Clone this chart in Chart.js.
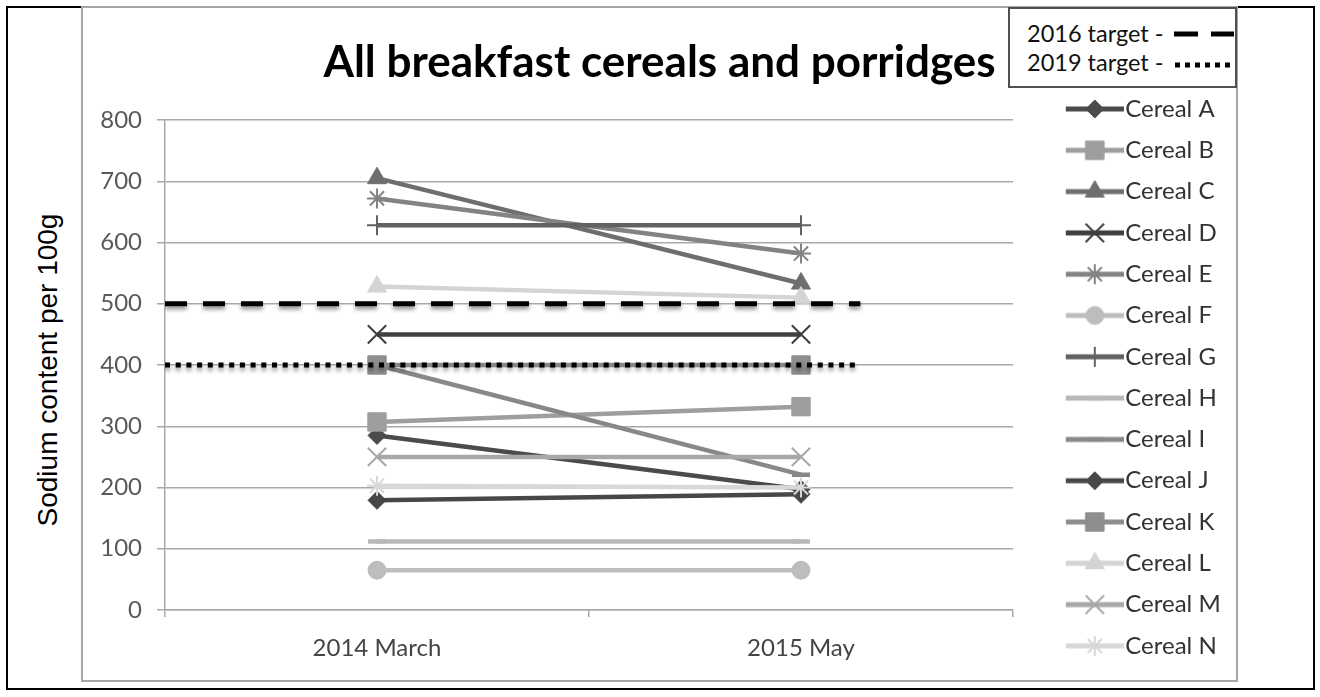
<!DOCTYPE html>
<html lang="en">
<head>
  <meta charset="UTF-8" />
  <title>All breakfast cereals and porridges</title>
  <style>
    body {
      margin: 0;
      background: #fff;
      font-family: Lato, sans-serif;
    }
    #page {
      position: absolute;
      left: 6px;
      top: 6px;
      width: 1305px;
      height: 680px;
      border: 2px solid #000;
    }
    #yTitle {
      position: absolute;
      left: 48px;
      top: 370px;
      transform: translate(-50%, -50%) rotate(-90deg);
      font-family: "Liberation Sans", Arial, sans-serif;
      font-size: 28px;
      color: #000;
      white-space: nowrap;
    }
    #chartBox {
      position: absolute;
      left: 81px;
      top: 6px;
      border: 2px solid #a6a6a6;
      line-height: 0;
    }
    #targetBox {
      position: absolute;
      left: 1008px;
      top: 7px;
      width: 225px;
      height: 77px;
      border: 2px solid #505050;
      background: #fff;
      font-size: 23.5px;
      color: #111;
    }
    .trow {
      position: absolute;
      left: 17px;
      height: 28px;
      line-height: 28px;
      white-space: nowrap;
    }
    .trow svg {
      position: absolute;
      left: 147px;
      top: 8px;
    }
  </style>
</head>
<body>
  <div id="page"></div>
  <div id="yTitle">Sodium content per 100g</div>
  <div id="chartBox">
    <canvas id="sodiumChart" width="1153" height="672"></canvas>
  </div>
  <div id="targetBox">
    <div class="trow" style="top: 10px;">2016 target -
      <svg width="62" height="14"><line x1="0" y1="7" x2="60" y2="7" stroke="#000" stroke-width="5" stroke-dasharray="24 13"/></svg>
    </div>
    <div class="trow" style="top: 39px;">2019 target -
      <svg width="62" height="14"><line x1="1" y1="9" x2="60" y2="9" stroke="#000" stroke-width="5" stroke-dasharray="5 5"/></svg>
    </div>
  </div>

  <script src="https://cdn.jsdelivr.net/npm/chart.js"></script>
  <script>
    // data
    const periods = ['2014 March', '2015 May'];
    const cereals = ['Cereal A', 'Cereal B', 'Cereal C', 'Cereal D', 'Cereal E', 'Cereal F', 'Cereal G',
                     'Cereal H', 'Cereal I', 'Cereal J', 'Cereal K', 'Cereal L', 'Cereal M', 'Cereal N'];
    const cerealA = [285, 197];
    const cerealB = [307, 332];
    const cerealC = [705, 533];
    const cerealD = [450, 450];
    const cerealE = [672, 582];
    const cerealF = [65, 65];
    const cerealG = [628, 628];
    const cerealH = [112, 112];
    const cerealI = [400, 221];
    const cerealJ = [179, 189];
    const cerealK = [400, 400];
    const cerealL = [528, 510];
    const cerealM = [250, 250];
    const cerealN = [203, 200];
    const sodium = [cerealA, cerealB, cerealC, cerealD, cerealE, cerealF, cerealG,
                    cerealH, cerealI, cerealJ, cerealK, cerealL, cerealM, cerealN];

    const target2016 = [500, 500];
    const target2019 = [400, 400];
    const targetSpan = [-0.5, 1.14];   // in category-index units
    const yTicks = [0, 100, 200, 300, 400, 500, 600, 700, 800];

    // styling
    const colors = ['#4b4b4b', '#9e9e9e', '#6e6e6e', '#3f3f3f', '#838383', '#bdbdbd', '#626262',
                    '#b8b8b8', '#888888', '#474747', '#8e8e8e', '#d4d4d4', '#a8a8a8', '#d8d8d8'];
    const markers = ['rectRot', 'rect', 'triangle', 'crossRot', 'star', 'circle', 'cross',
                     'line', 'line', 'rectRot', 'rect', 'triangle', 'crossRot', 'star'];
    const radii = [9, 13, 11, 13, 10, 9, 10, 9, 9, 9, 13, 11, 13, 10];
    const markerLine = [1, 1, 1, 2, 2, 1, 2, 4.5, 4.5, 1, 1, 1, 2, 2];

    // legend geometry
    const legendFont = 24;
    const legendPad = 17.3;
    const iconBox = 83;
    const plotRight = 929;
    const padBottom = 4.8;

    const measure = document.createElement('canvas').getContext('2d');
    measure.font = legendFont + 'px Lato';
    const longest = Math.max(...cereals.map(n => measure.measureText(n).width));
    const legendWidth = legendPad + iconBox + legendFont / 2 + longest;
    const side = 1153 - plotRight - legendWidth - 11;

    function makeIcon(i) {
      const c = document.createElement('canvas');
      c.width = 104;
      c.height = 28;
      const g = c.getContext('2d');
      g.strokeStyle = colors[i];
      g.lineWidth = 5;
      g.beginPath();
      g.moveTo(46, 14);
      g.lineTo(104, 14);
      g.stroke();
      g.fillStyle = colors[i];
      g.lineWidth = markerLine[i];
      Chart.helpers.drawPoint(g, {
        pointStyle: markers[i], radius: radii[i], rotation: 0, borderWidth: markerLine[i]
      }, 75, 14);
      return c;
    }
    const icons = cereals.map((n, i) => makeIcon(i));

    const datasets = cereals.map((name, i) => ({
      label: name,
      data: sodium[i],
      xAxisID: 'x',
      borderColor: colors[i],
      backgroundColor: colors[i],
      borderWidth: 4.5,
      pointStyle: markers[i],
      pointRadius: radii[i],
      pointHoverRadius: radii[i],
      pointBackgroundColor: colors[i],
      pointBorderColor: colors[i],
      pointBorderWidth: markerLine[i],
      order: 20 - i
    }));

    datasets.push({
      label: '2016 target',
      data: targetSpan.map((x, k) => ({ x: x, y: target2016[k] })),
      xAxisID: 'xt',
      borderColor: '#000',
      borderWidth: 5,
      borderDash: [22, 16],
      borderCapStyle: 'butt',
      pointRadius: 0,
      order: 0
    });
    datasets.push({
      label: '2019 target',
      data: targetSpan.map((x, k) => ({ x: x, y: target2019[k] })),
      xAxisID: 'xt',
      borderColor: '#000',
      borderWidth: 5,
      borderDash: [5, 5.7],
      borderCapStyle: 'butt',
      pointRadius: 0,
      order: 1
    });

    // soft shadow under the target lines, like the original
    const targetShadow = {
      id: 'targetShadow',
      beforeDatasetDraw(chart, args) {
        if (args.index < cereals.length) return;
        const ctx = chart.ctx;
        ctx.save();
        ctx.shadowColor = 'rgba(0,0,0,0.45)';
        ctx.shadowBlur = 4;
        ctx.shadowOffsetY = 3;
      },
      afterDatasetDraw(chart, args) {
        if (args.index < cereals.length) return;
        chart.ctx.restore();
      }
    };

    const gridGrey = '#a9a9a9';

    new Chart(document.getElementById('sodiumChart').getContext('2d'), {
      type: 'line',
      data: { labels: periods, datasets: datasets },
      plugins: [targetShadow],
      options: {
        responsive: false,
        animation: false,
        events: [],
        layout: { padding: { left: side, right: side, top: 10, bottom: padBottom } },
        plugins: {
          tooltip: { enabled: false },
          title: {
            display: true,
            text: 'All breakfast cereals and porridges',
            color: '#000',
            font: { family: 'Lato', size: 44, weight: 'bold' },
            padding: { top: 18.6, bottom: 30.6 }
          },
          legend: {
            position: 'right',
            align: 'end',
            labels: {
              usePointStyle: true,
              pointStyleWidth: iconBox,
              padding: legendPad,
              color: '#333',
              font: { family: 'Lato', size: legendFont },
              generateLabels: () => cereals.map((name, i) => ({
                text: name,
                datasetIndex: i,
                pointStyle: icons[i],
                fillStyle: colors[i],
                strokeStyle: colors[i],
                lineWidth: 0,
                hidden: false,
                fontColor: '#333'
              }))
            }
          }
        },
        scales: {
          x: {
            type: 'category',
            offset: true,
            afterFit: s => { s.height = 70 - padBottom; },
            grid: { offset: true, drawOnChartArea: false, tickLength: 7, color: gridGrey, lineWidth: 1.5 },
            border: { color: gridGrey, width: 1.5 },
            ticks: { color: '#444', padding: 16.6, font: { family: 'Lato', size: 24 } }
          },
          xt: {
            type: 'linear',
            display: false,
            min: -0.5,
            max: 1.5
          },
          y: {
            min: 0,
            max: 800,
            afterFit: s => { s.width = 82 - side; },
            afterBuildTicks: s => { s.ticks = yTicks.map(v => ({ value: v })); },
            grid: { color: gridGrey, lineWidth: 1.5, tickLength: 8 },
            border: { color: gridGrey, width: 1.5 },
            ticks: { color: '#595959', padding: 15, font: { family: 'Lato', size: 24 } }
          }
        }
      }
    });
  </script>
</body>
</html>
